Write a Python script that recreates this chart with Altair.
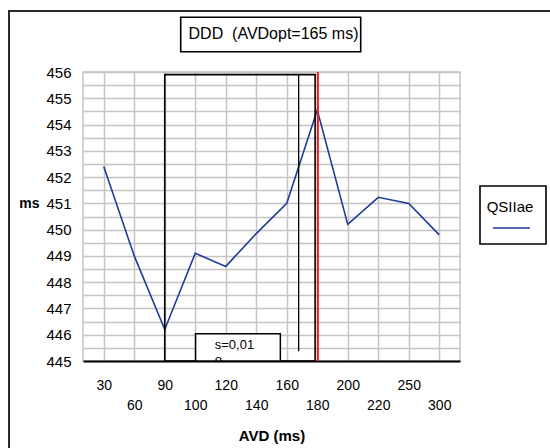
import json
import altair as alt
import pandas as pd

# ---- data ----
AVD_LABELS = ["30", "60", "90", "100", "120", "140", "160", "180", "200", "220", "250", "300"]
QSIIAE = [452.4, 449.0, 446.2, 449.1, 448.6, 449.85, 451.0, 454.55, 450.2, 451.23, 451.0, 449.8]
SERIES = "QSIIae"
Y_TICKS = [445, 445.5, 446, 446.5, 447, 447.5, 448, 448.5, 449, 449.5, 450, 450.5,
           451, 451.5, 452, 452.5, 453, 453.5, 454, 454.5, 455, 455.5, 456]

# annotation positions (in category-index / ms units)
WINDOW = {"x": 2.0, "x2": 6.93, "y": 455.9, "y2": 445.0}
SBOX = {"x": 3.01, "x2": 5.79, "y": 446.04, "y2": 445.0}
STAT_TEXT = "s=0,01"
AVDOPT_IDX = 6.39
RED_IDX = 7.02

TITLE = "DDD \u00a0(AVDopt=165 ms)"

LINE_COLOR = "#1f3b9b"
GRID = "#c4c4c4"
FONT = "Liberation Sans"

df = pd.DataFrame({"idx": list(range(len(AVD_LABELS))), "val": QSIIAE, "series": SERIES})

arr = json.dumps(AVD_LABELS)
label_expr = f"datum.value % 2 == 1 ? [' ', {arr}[datum.value]] : {arr}[datum.value]"

x_scale = alt.Scale(domain=[-0.68, 11.68], nice=False, zero=False)
y_scale = alt.Scale(domain=[445, 456], nice=False, zero=False)

x_axis = alt.Axis(values=list(range(12)), labelExpr=label_expr, grid=True, gridColor=GRID,
                  gridWidth=1.5, ticks=False, domain=True, domainColor="black", domainWidth=2,
                  labelPadding=17, labelFontSize=14, labelFont=FONT, labelLineHeight=20,
                  labelOverlap=False, labelFlush=False, labelColor="black", labelBaseline="top",
                  title="AVD (ms)", titleFont=FONT, titleFontSize=15, titleFontWeight="bold",
                  titleY=79, titleBaseline="alphabetic", titleColor="black")
y_axis = alt.Axis(values=Y_TICKS, labelExpr="datum.value % 1 == 0 ? format(datum.value, '.0f') : ''",
                  grid=True, gridColor=GRID, gridWidth=1.5, ticks=False, domain=False,
                  labelPadding=12, labelFontSize=15, labelFont=FONT, labelOverlap=False,
                  labelFlush=False, labelColor="black",
                  title="ms", titleAngle=0, titleFont=FONT, titleFontWeight="bold", titleFontSize=14,
                  titleX=-44, titleY=131, titleAlign="right", titleBaseline="middle", titleColor="black")


def X(field):
    return alt.X(field, scale=x_scale, axis=x_axis)


def Y(field):
    return alt.Y(field, scale=y_scale, axis=y_axis)


line = alt.Chart(df).mark_line(color=LINE_COLOR, strokeWidth=1.6).encode(
    x=X("idx:Q"), y=Y("val:Q"))

win = alt.Chart(pd.DataFrame([WINDOW])).mark_rect(fillOpacity=0, stroke="black", strokeWidth=1.6).encode(
    x=X("x:Q"), x2="x2:Q", y=Y("y:Q"), y2="y2:Q")

sbox = alt.Chart(pd.DataFrame([SBOX])).mark_rect(fill="white", stroke="black", strokeWidth=1.5).encode(
    x=X("x:Q"), x2="x2:Q", y=Y("y:Q"), y2="y2:Q")

stext = alt.Chart(pd.DataFrame([{"x": 3.64, "y": 445.6, "t": STAT_TEXT},
                                {"x": 3.64, "y": 445.03, "t": "o"}])).mark_text(
    align="left", baseline="middle", font=FONT, fontSize=13, color="black", clip=True).encode(
    x=X("x:Q"), y=Y("y:Q"), text="t:N")

vline = alt.Chart(pd.DataFrame([{"x": AVDOPT_IDX, "y": 455.9, "y2": 445.37}])).mark_rule(
    color="black", strokeWidth=1.3).encode(
    x=X("x:Q"), y=Y("y:Q"), y2="y2:Q")

red = alt.Chart(pd.DataFrame([{"x": RED_IDX, "y": 456, "y2": 445}])).mark_rule(
    color="#e02020", strokeWidth=2).encode(
    x=X("x:Q"), y=Y("y:Q"), y2="y2:Q")

one = pd.DataFrame([{"k": 0}])

# outer frame
frame = alt.Chart(one).mark_rect(fillOpacity=0, stroke="#2a2a2a", strokeWidth=2).encode(
    x=alt.value(-74), x2=alt.value(480), y=alt.value(-61), y2=alt.value(400))

# title box
tbox = alt.Chart(one).mark_rect(fill="white", stroke="black", strokeWidth=1.6).encode(
    x=alt.value(97.7), x2=alt.value(277.7), y=alt.value(-54.7), y2=alt.value(-20.3))
ttext = alt.Chart(one).mark_text(align="center", baseline="alphabetic", font=FONT, fontSize=16,
                                 color="black").encode(
    x=alt.value(190.5), y=alt.value(-32.7), text=alt.value(TITLE))

# legend box
lbox = alt.Chart(one).mark_rect(fill="white", stroke="black", strokeWidth=1.6).encode(
    x=alt.value(397), x2=alt.value(463), y=alt.value(114), y2=alt.value(172))
ltext = alt.Chart(one).mark_text(align="center", baseline="alphabetic", font=FONT, fontSize=15,
                                 color="black").encode(
    x=alt.value(427), y=alt.value(139.7), text=alt.value(SERIES))
lline = alt.Chart(one).mark_rule(color=LINE_COLOR, strokeWidth=1.6).encode(
    x=alt.value(410), x2=alt.value(447), y=alt.value(156))

chart = alt.layer(line, win, sbox, stext, vline, red, frame, tbox, ttext, lbox, ltext, lline).properties(
    width=377, height=289,
    autosize=alt.AutoSizeParams(type="none"),
    padding={"left": 83, "top": 72, "right": 90, "bottom": 87},
    background="white",
).configure_view(stroke=GRID, strokeWidth=1.5).configure_axis(labelOverlap=False)

chart.save("out.html", embed_options={"renderer": "svg", "actions": False})
